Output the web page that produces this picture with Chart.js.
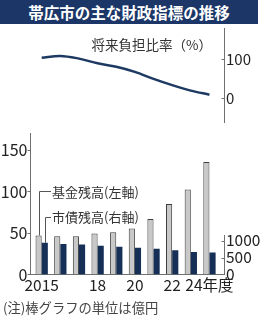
<!DOCTYPE html>
<html><head><meta charset="utf-8">
<script src="https://cdn.jsdelivr.net/npm/chart.js@4"></script>
<style>
html,body{margin:0;padding:0;background:#fff;}
#wrap{position:relative;width:260px;height:320px;overflow:hidden;font-family:"Noto Sans CJK JP",sans-serif;}
#title{position:absolute;left:0;top:0;width:258px;height:24px;background:#1c3767;color:#fff;font-weight:bold;font-size:15.5px;line-height:24px;text-align:center;letter-spacing:0px;}
canvas{position:absolute;left:0;top:0;}
.t{position:absolute;white-space:nowrap;color:#333;}
</style></head>
<body>
<div id="wrap">
  <div id="title">帯広市の主な財政指標の推移</div>
  <canvas id="c1" width="260" height="320"></canvas>
  <canvas id="c2" width="260" height="320"></canvas>
  <div class="t" style="right:48px;top:34px;font-size:13.5px;line-height:20px;">将来負担比率（%）</div>
  <div class="t" style="left:52px;top:182px;font-size:13px;line-height:20px;">基金残高(左軸)</div>
  <div class="t" style="left:52px;top:207px;font-size:13px;line-height:20px;">市債残高(右軸)</div>
  <div class="t" style="left:3px;top:298px;font-size:13.3px;line-height:20px;color:#444;">(注)棒グラフの単位は億円</div>
</div>
<script>
const years = [2015, 2016, 2017, 2018, 2019, 2020, 2021, 2022, 2023, 2024];
const xTickLabels = ['2015', '', '', '18', '', '20', '', '22', '', '24年度'];
const burdenRatio = [103, 108, 101, 89, 80, 67, 49, 33, 19, 8.5];
const fundBalance = [47, 46, 46, 49.5, 51, 55.5, 67, 85, 102.5, 135.5];
const bondBalance = [935, 897, 885, 847, 818, 788, 760, 712, 665, 650];
const topTicks = [0, 100];
const leftTicks = [0, 50, 100, 150];
const rightTicks = [0, 500, 1000];

const NUM_FONT = "'Liberation Sans Narrow','Noto Sans CJK JP',sans-serif";
const AXIS = '#707070';
const TXT = '#222';

function tickLabel(v) {
  const i = years.indexOf(v);
  return i >= 0 ? xTickLabels[i] : '';
}

// inward tick marks for right-side axes, and shortened axis line
const rightAxisPlugin = {
  id: 'rightAxis',
  afterDraw(chart, args, opts) {
    const ctx = chart.ctx;
    ctx.save();
    ctx.strokeStyle = AXIS;
    ctx.lineWidth = 1;
    (opts.axes || []).forEach(a => {
      const s = chart.scales[a.id];
      const x = Math.round(s.left) + 0.5;
      if (a.lineTo !== undefined) {
        ctx.beginPath();
        ctx.moveTo(x, s.getPixelForValue(0) + 0.5);
        ctx.lineTo(x, s.getPixelForValue(a.lineTo));
        ctx.stroke();
      }
      s.ticks.forEach(t => {
        if (a.skip && a.skip.includes(t.value)) return;
        const y = Math.round(s.getPixelForValue(t.value)) + 0.5;
        ctx.beginPath();
        ctx.moveTo(x - 3, y);
        ctx.lineTo(x, y);
        ctx.stroke();
      });
    });
    ctx.restore();
  }
};

// leader lines from legend text to first bars
const leaderPlugin = {
  id: 'leaders',
  afterDatasetsDraw(chart) {
    const ctx = chart.ctx;
    ctx.save();
    ctx.strokeStyle = '#555';
    ctx.lineWidth = 1;
    const g = chart.getDatasetMeta(0).data[0];
    const n = chart.getDatasetMeta(1).data[0];
    const draw = (el, y0) => {
      const x = Math.round(el.x) + 0.5;
      ctx.beginPath();
      ctx.moveTo(51, y0);
      ctx.lineTo(x, y0);
      ctx.lineTo(x, el.y);
      ctx.stroke();
    };
    draw(g, 191.5);
    draw(n, 217.5);
    ctx.restore();
  }
};

new Chart(document.getElementById('c1'), {
  type: 'line',
  data: {
    datasets: [{
      data: years.map((y, i) => ({x: y, y: burdenRatio[i]})),
      borderColor: '#1e3a63',
      borderWidth: 2.5,
      pointRadius: 0,
      tension: 0.35,
      fill: false
    }]
  },
  options: {
    responsive: false,
    animation: false,
    events: [],
    layout: {padding: {left: 30.5, top: 28, bottom: 198, right: 0}},
    plugins: {legend: {display: false}, tooltip: {enabled: false},
      rightAxis: {axes: [{id: 'y'}]}},
    scales: {
      x: {type: 'linear', min: 2014.4, max: 2024.78, offset: false, display: false},
      y: {
        position: 'right', min: -61.5, max: 179.5,
        afterFit(s) { s.width = 36; },
        afterBuildTicks(s) { s.ticks = topTicks.map(v => ({value: v})); },
        grid: {display: true, drawOnChartArea: false, drawTicks: false},
        border: {display: true, color: AXIS, width: 1},
        ticks: {padding: 2, color: TXT, font: {family: NUM_FONT, size: 15}, callback: v => String(v)}
      }
    }
  },
  plugins: [rightAxisPlugin]
});

new Chart(document.getElementById('c2'), {
  type: 'bar',
  data: {
    datasets: [{
      label: '基金残高',
      data: years.map((y, i) => ({x: y, y: fundBalance[i]})),
      yAxisID: 'y',
      backgroundColor: '#c8c8c8',
      borderColor: '#3c3c3c',
      borderWidth: 1,
      borderSkipped: 'start',
      categoryPercentage: 0.66,
      barPercentage: 1.0
    }, {
      label: '市債残高',
      data: years.map((y, i) => ({x: y, y: bondBalance[i]})),
      yAxisID: 'y2',
      backgroundColor: '#162f56',
      borderWidth: 0,
      categoryPercentage: 0.66,
      barPercentage: 1.0
    }]
  },
  options: {
    responsive: false,
    animation: false,
    events: [],
    layout: {padding: {left: 0, top: 133, bottom: 0, right: 0}},
    plugins: {legend: {display: false}, tooltip: {enabled: false},
      rightAxis: {axes: [{id: 'y2', lineTo: 1160, skip: [0]}]}},
    scales: {
      x: {
        type: 'linear', min: 2014.4, max: 2024.78, offset: false,
        afterFit(s) { s.height = 45.5; },
        afterBuildTicks(s) { s.ticks = [2015, 2018, 2020, 2022, 2024].map(v => ({value: v})); },
        grid: {display: true, offset: false, drawOnChartArea: false, drawTicks: false},
        border: {display: true, color: AXIS, width: 1},
        ticks: {padding: 1, color: TXT, maxRotation: 0, autoSkip: false,
          font: {family: NUM_FONT, size: 15.5},
          callback: v => tickLabel(v)}
      },
      y: {
        position: 'left', min: 0, max: 170.5,
        afterFit(s) { s.width = 30.5; },
        afterBuildTicks(s) { s.ticks = leftTicks.map(v => ({value: v})); },
        grid: {display: true, drawOnChartArea: false, drawTicks: true, tickLength: 3, tickColor: AXIS},
        border: {display: true, color: AXIS, width: 1},
        ticks: {padding: 0, color: TXT, font: {family: NUM_FONT, size: 16}, callback: v => String(v)}
      },
      y2: {
        position: 'right', min: 0, max: 4162,
        afterFit(s) { s.width = 36; },
        afterBuildTicks(s) { s.ticks = rightTicks.map(v => ({value: v})); },
        grid: {display: false, drawOnChartArea: false, drawTicks: false},
        border: {display: false},
        ticks: {padding: 2, color: TXT, font: {family: NUM_FONT, size: 15.5}, callback: v => String(v)}
      }
    }
  },
  plugins: [rightAxisPlugin, leaderPlugin]
});
</script>
</body></html>
